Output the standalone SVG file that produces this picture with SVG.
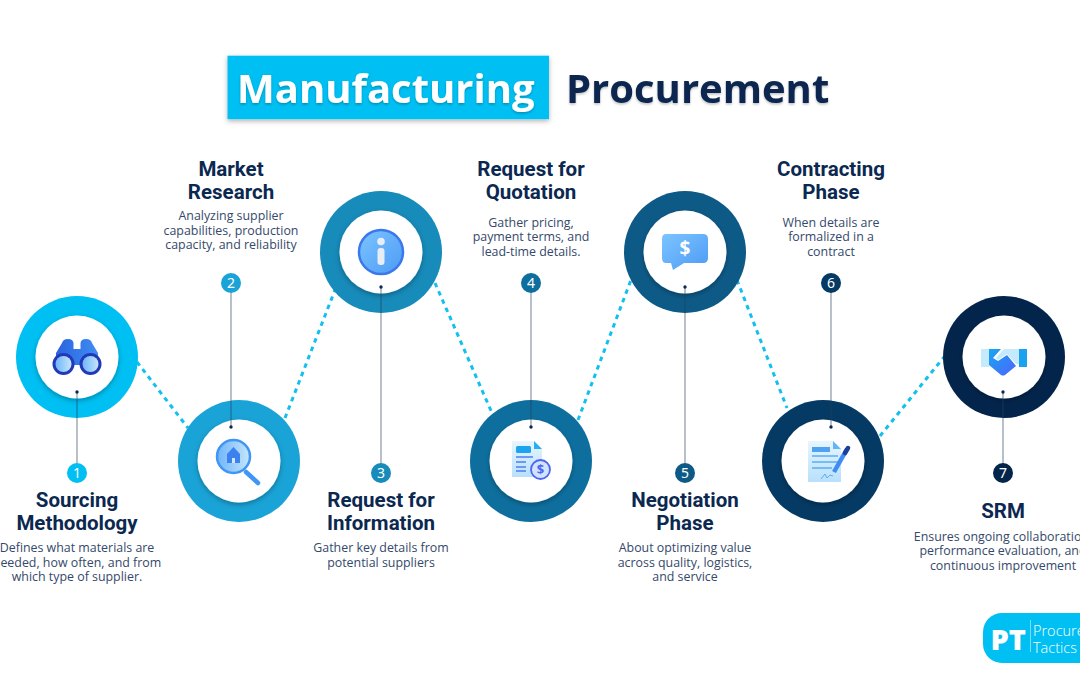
<svg xmlns="http://www.w3.org/2000/svg" width="1080" height="675" viewBox="0 0 1080 675">
<style>
.t{font-family:"Open Sans","Noto Sans",sans-serif;font-weight:700;text-anchor:start}
.h{font-family:Roboto,"Noto Sans",sans-serif;font-weight:700;font-size:20.5px;fill:#0b2850;text-anchor:middle}
.d{font-family:"Open Sans","Noto Sans",sans-serif;font-size:12.4px;fill:#34496b;text-anchor:middle}
.n{font-family:"Noto Sans","Open Sans",sans-serif;font-size:14px;fill:#fff;text-anchor:middle}
.in{fill:#fff;filter:url(#sh)}
.dot{fill:#0b2850}
.lead{stroke:#24405f;stroke-opacity:.5;stroke-width:1.3;fill:none}
.dash{stroke:#12c0ef;stroke-width:3;stroke-dasharray:4.5 4.5;fill:none}
</style>
<defs>
<filter id="sh" x="-20%" y="-20%" width="140%" height="140%"><feDropShadow dx="0" dy="2" stdDeviation="2.5" flood-color="#000" flood-opacity=".3"/></filter>
<filter id="ts" x="-5%" y="-20%" width="110%" height="150%"><feDropShadow dx="0" dy="1.5" stdDeviation="1.2" flood-color="#000" flood-opacity=".25"/></filter>
<linearGradient id="g1" x1="0" y1="0" x2="1" y2="1"><stop offset="0" stop-color="#7cc4ff"/><stop offset="1" stop-color="#4d9bf5"/></linearGradient>
<linearGradient id="g2" x1="0" y1="0" x2="1" y2="0"><stop offset="0" stop-color="#2a63e0"/><stop offset="1" stop-color="#3f8df2"/></linearGradient>
<linearGradient id="g3" x1="0" y1="0" x2="1" y2="0"><stop offset="0" stop-color="#6fb5fa"/><stop offset="1" stop-color="#c5e6fb"/></linearGradient>
<linearGradient id="g4" x1="0" y1="0" x2="0" y2="1"><stop offset="0" stop-color="#e8f5fe"/><stop offset="1" stop-color="#b8e0fc"/></linearGradient>
<linearGradient id="g5" x1="0" y1="0" x2="1" y2="1"><stop offset="0" stop-color="#16a7f0"/><stop offset="1" stop-color="#4f63ff"/></linearGradient>
</defs>
<g id="title">
<rect x="227.5" y="55.7" width="321.500" height="63.5" fill="#00bff2" filter="url(#sh)"/>
<text class="t" x="237" y="103" font-size="40" fill="#fff" filter="url(#ts)">Manufacturing</text>
<text class="t" x="566" y="103" font-size="40" fill="#0b2850" filter="url(#ts)">Procurement</text>
</g>
<g id="dotted-connectors">
<path class="dash" d="M137 362L188 428"/>
<path class="dash" d="M285 418L335 290"/>
<path class="dash" d="M435 283L492 413"/>
<path class="dash" d="M578 420L631 280"/>
<path class="dash" d="M737 280L787 408"/>
<path class="dash" d="M880 436L944 357"/>
</g>
<g id="node1">
<circle cx="77" cy="357" r="61" fill="#00bff2"/><circle class="in" cx="77" cy="357" r="41.5"/>
<path d="M56 353L62 343Q63 339 68 339Q73 339 73.500 343L73.500 349H80.500V343Q81 339 86 339Q91 339 92 343L98 353V365H56Z" fill="url(#g2)"/>
<circle cx="63.500" cy="364" r="11" fill="#2238b8"/><circle cx="63.500" cy="364" r="8" fill="url(#g3)"/>
<circle cx="90.500" cy="364" r="11" fill="#2238b8"/><circle cx="90.500" cy="364" r="8" fill="url(#g3)"/>
<text class="h" x="77" y="507">Sourcing</text><text class="h" x="77" y="530">Methodology</text>
<text class="d" x="77" y="552">Defines what materials are</text><text class="d" x="77" y="567">needed, how often, and from</text><text class="d" x="77" y="581">which type of supplier.</text>
</g>
<g id="node2">
<circle cx="239" cy="461" r="61" fill="#1aa3d6"/><circle class="in" cx="239" cy="461" r="41.5"/>
<path d="M246 472L258 483" stroke="#3f96f5" stroke-width="4.500" stroke-linecap="round"/>
<circle cx="233.500" cy="456.500" r="16.500" fill="url(#g3)" stroke="#3f96f5" stroke-width="2.500"/>
<path d="M233.500 447L240 454V463H227V454Z" fill="#3b82f0"/><rect x="232" y="458" width="3" height="5" fill="#cfe6fb"/>
<text class="h" x="231" y="176">Market</text><text class="h" x="231" y="199">Research</text>
<text class="d" x="231" y="220">Analyzing supplier</text><text class="d" x="231" y="235">capabilities, production</text><text class="d" x="231" y="249">capacity, and reliability</text>
</g>
<g id="node3">
<circle cx="381" cy="252" r="61" fill="#178bba"/><circle class="in" cx="381" cy="252" r="41.5"/>
<circle cx="381" cy="252" r="22" fill="url(#g1)" stroke="#3a78ec" stroke-width="2.500"/>
<circle cx="381" cy="241.500" r="3.800" fill="#e8eef7"/><rect x="377.500" y="248" width="7" height="17" rx="3" fill="#e8eef7"/>
<text class="h" x="381" y="507">Request for</text><text class="h" x="381" y="530">Information</text>
<text class="d" x="381" y="552">Gather key details from</text><text class="d" x="381" y="567">potential suppliers</text>
</g>
<g id="node4">
<circle cx="531" cy="461" r="61" fill="#0e6f9f"/><circle class="in" cx="531" cy="461" r="41.5"/>
<path d="M512 441H534L542 449V477H512Z" fill="url(#g4)"/><path d="M534 441L542 449H534Z" fill="#26b0f0"/>
<rect x="516" y="446" width="15" height="7" rx="1.500" fill="#1ea4ee"/>
<path d="M516 457H533M516 462H526M516 467H526M516 471H526" stroke="#4f7cf5" stroke-width="1.500"/>
<circle cx="540.500" cy="469.500" r="9.500" fill="#cfe4fd" stroke="#4f63f5" stroke-width="1.800"/>
<text x="540.500" y="474" font-family="Open Sans,sans-serif" font-size="13" font-weight="700" fill="#4f63f5" text-anchor="middle">$</text>
<text class="h" x="531" y="176">Request for</text><text class="h" x="531" y="199">Quotation</text>
<text class="d" x="531" y="227">Gather pricing,</text><text class="d" x="531" y="241">payment terms, and</text><text class="d" x="531" y="256">lead-time details.</text>
</g>
<g id="node5">
<circle cx="685" cy="252" r="61" fill="#0e5a87"/><circle class="in" cx="685" cy="252" r="41.5"/>
<path d="M666 234H703Q708 234 708 239V258Q708 263 703 263H684L673 270L671 263H666Q662 263 662 258V239Q662 234 666 234Z" fill="url(#g1)"/>
<text x="685" y="255" font-family="Open Sans,sans-serif" font-size="19" font-weight="700" fill="#fff" text-anchor="middle">$</text>
<text class="h" x="685" y="507">Negotiation</text><text class="h" x="685" y="530">Phase</text>
<text class="d" x="685" y="552">About optimizing value</text><text class="d" x="685" y="567">across quality, logistics,</text><text class="d" x="685" y="581">and service</text>
</g>
<g id="node6">
<circle cx="823" cy="461" r="61" fill="#053a64"/><circle class="in" cx="823" cy="461" r="41.5"/>
<path d="M808 441H833L841 449V482H808Z" fill="url(#g4)"/><path d="M833 441L841 449H833Z" fill="#62b5f6"/>
<rect x="812" y="447" width="18" height="5" fill="#4da3f2"/>
<path d="M812 456H838M812 462H838M812 468H832" stroke="#5aaef3" stroke-width="1.300"/>
<path d="M847 449L834 472" stroke="#3f8df2" stroke-width="4.500"/><path d="M848 448L845 453" stroke="#1d3f9c" stroke-width="4.500" stroke-linecap="round"/>
<path d="M821 479L825 474L827 478L830 475L833 476" stroke="#5aaef3" fill="none"/>
<text class="h" x="831" y="176">Contracting</text><text class="h" x="831" y="199">Phase</text>
<text class="d" x="831" y="227">When details are</text><text class="d" x="831" y="241">formalized in a</text><text class="d" x="831" y="256">contract</text>
</g>
<g id="node7">
<circle cx="1004" cy="357" r="61" fill="#03254c"/><circle class="in" cx="1004" cy="357" r="41.5"/>
<rect x="981" y="349" width="8" height="18" fill="#c5e9fd"/><rect x="1019" y="349" width="8" height="18" fill="#1aa2f0"/>
<path d="M989 349H1001L993 358L998 361L1007 355L1016 366L1005 375Q1003 376 1001 375L989 365Z" fill="url(#g5)"/>
<path d="M1004 349H1019V364H1016L1007 354L998 360L996 358Z" fill="#c5e9fd"/>
<text class="h" x="1003" y="518">SRM</text>
<text class="d" x="1003" y="541">Ensures ongoing collaboration,</text><text class="d" x="1003" y="555">performance evaluation, and</text><text class="d" x="1003" y="570">continuous improvement</text>
</g>
<g id="leaders">
<path class="lead" d="M77 392V473M231 283V427M381 287V473M531 283V427M685 287V473M831 283V427M1003 392V473"/>
<circle class="dot" cx="77" cy="392" r="1.700"/><circle class="dot" cx="231" cy="427" r="1.700"/><circle class="dot" cx="381" cy="287" r="1.700"/><circle class="dot" cx="531" cy="427" r="1.700"/><circle class="dot" cx="685" cy="287" r="1.700"/><circle class="dot" cx="831" cy="427" r="1.700"/><circle class="dot" cx="1003" cy="392" r="1.700"/>
</g>
<g id="badges">
<circle cx="77" cy="473" r="10" fill="#00bff2"/><text class="n" x="77" y="478">1</text>
<circle cx="231" cy="283" r="10" fill="#1aa3d6"/><text class="n" x="231" y="288">2</text>
<circle cx="381" cy="473" r="10" fill="#178bba"/><text class="n" x="381" y="478">3</text>
<circle cx="531" cy="283" r="10" fill="#0e6f9f"/><text class="n" x="531" y="288">4</text>
<circle cx="685" cy="473" r="10" fill="#0e5a87"/><text class="n" x="685" y="478">5</text>
<circle cx="831" cy="283" r="10" fill="#053a64"/><text class="n" x="831" y="288">6</text>
<circle cx="1003" cy="473" r="10" fill="#03254c"/><text class="n" x="1003" y="478">7</text>
</g>
<g id="logo">
<rect x="983" y="613" width="130" height="50" rx="19" fill="#00bff2"/>
<text x="990.500" y="650" font-family="Open Sans,sans-serif" font-size="29" font-weight="800" fill="#fff">PT</text>
<path d="M1030.500 620V652" stroke="#7fdcf8" stroke-width="1"/>
<text x="1033" y="636" font-family="Open Sans,sans-serif" font-size="14.500" font-weight="300" fill="#fff">Procurement</text>
<text x="1033" y="653" font-family="Open Sans,sans-serif" font-size="14.500" font-weight="300" fill="#fff">Tactics</text>
</g>
</svg>
